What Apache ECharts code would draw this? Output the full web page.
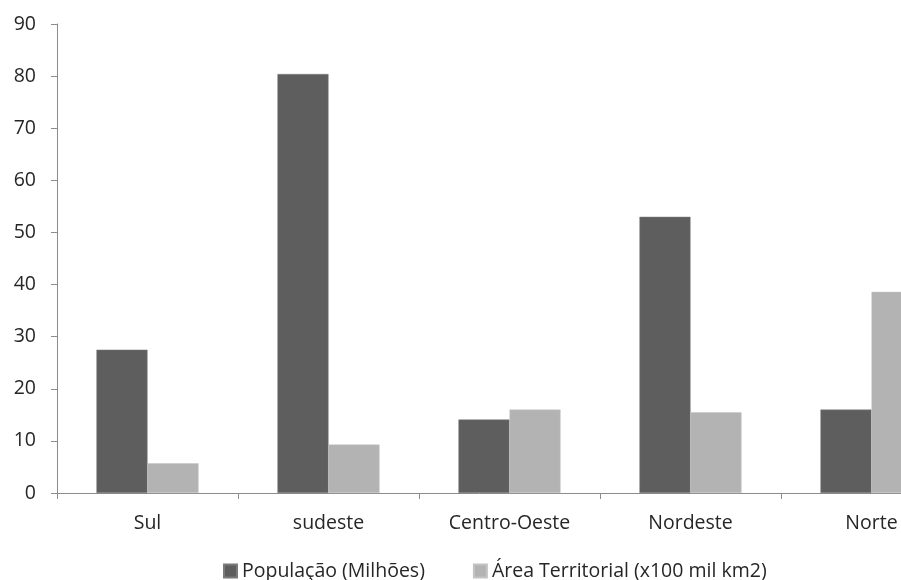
<!DOCTYPE html>
<html><head><meta charset="utf-8">
<script src="https://cdn.jsdelivr.net/npm/echarts@6/dist/echarts.min.js"></script>
<style>html,body{margin:0;padding:0;background:#fff}#c{width:901px;height:580px}</style>
</head><body><div id="c"></div>
<script>
const categories = ['Sul', 'sudeste', 'Centro-Oeste', 'Nordeste', 'Norte'];
const populacao = [27.5, 80.4, 14.1, 53.0, 16.0];
const area = [5.7, 9.3, 16.0, 15.5, 38.6];
const yTicks = {min: 0, max: 90, interval: 10};
const seriesNames = ['População (Milhões)', 'Área Territorial (x100 mil km2)'];

const font = 'Open Sans';
const chart = echarts.init(document.getElementById('c'), null, {renderer: 'canvas'});
chart.setOption({
  animation: false,
  backgroundColor: '#fff',
  grid: {left: 57, top: 24, right: -61, bottom: 87, containLabel: false, outerBoundsMode: 'none'},
  legend: {
    left: 218, top: 556, padding: 5, itemWidth: 13, itemHeight: 13, itemGap: 48, icon: 'rect',
    textStyle: {fontFamily: font, fontSize: 19.5, color: '#262626'},
    data: seriesNames
  },
  xAxis: {
    type: 'category', data: categories,
    axisLine: {lineStyle: {color: '#8c8c8c', width: 1}},
    axisTick: {show: true, length: 6, lineStyle: {color: '#8c8c8c'}},
    axisLabel: {fontFamily: font, fontSize: 19.5, color: '#262626', margin: 20}
  },
  yAxis: {
    type: 'value', min: yTicks.min, max: yTicks.max, interval: yTicks.interval,
    axisLine: {show: true, lineStyle: {color: '#8c8c8c', width: 1}},
    axisTick: {show: true, length: 6, lineStyle: {color: '#8c8c8c'}},
    splitLine: {show: false},
    axisLabel: {fontFamily: font, fontSize: 19.5, color: '#262626', margin: 21}
  },
  series: [
    {name: seriesNames[0], type: 'bar', data: populacao, barGap: '0%', barCategoryGap: '43.6%',
     itemStyle: {color: '#5e5e5e', borderColor: '#7a7a7a', borderWidth: 0.5}},
    {name: seriesNames[1], type: 'bar', data: area, barGap: '0%', barCategoryGap: '43.6%',
     itemStyle: {color: '#b3b3b3', borderColor: '#c4c4c4', borderWidth: 0.5}}
  ]
});
</script></body></html>
